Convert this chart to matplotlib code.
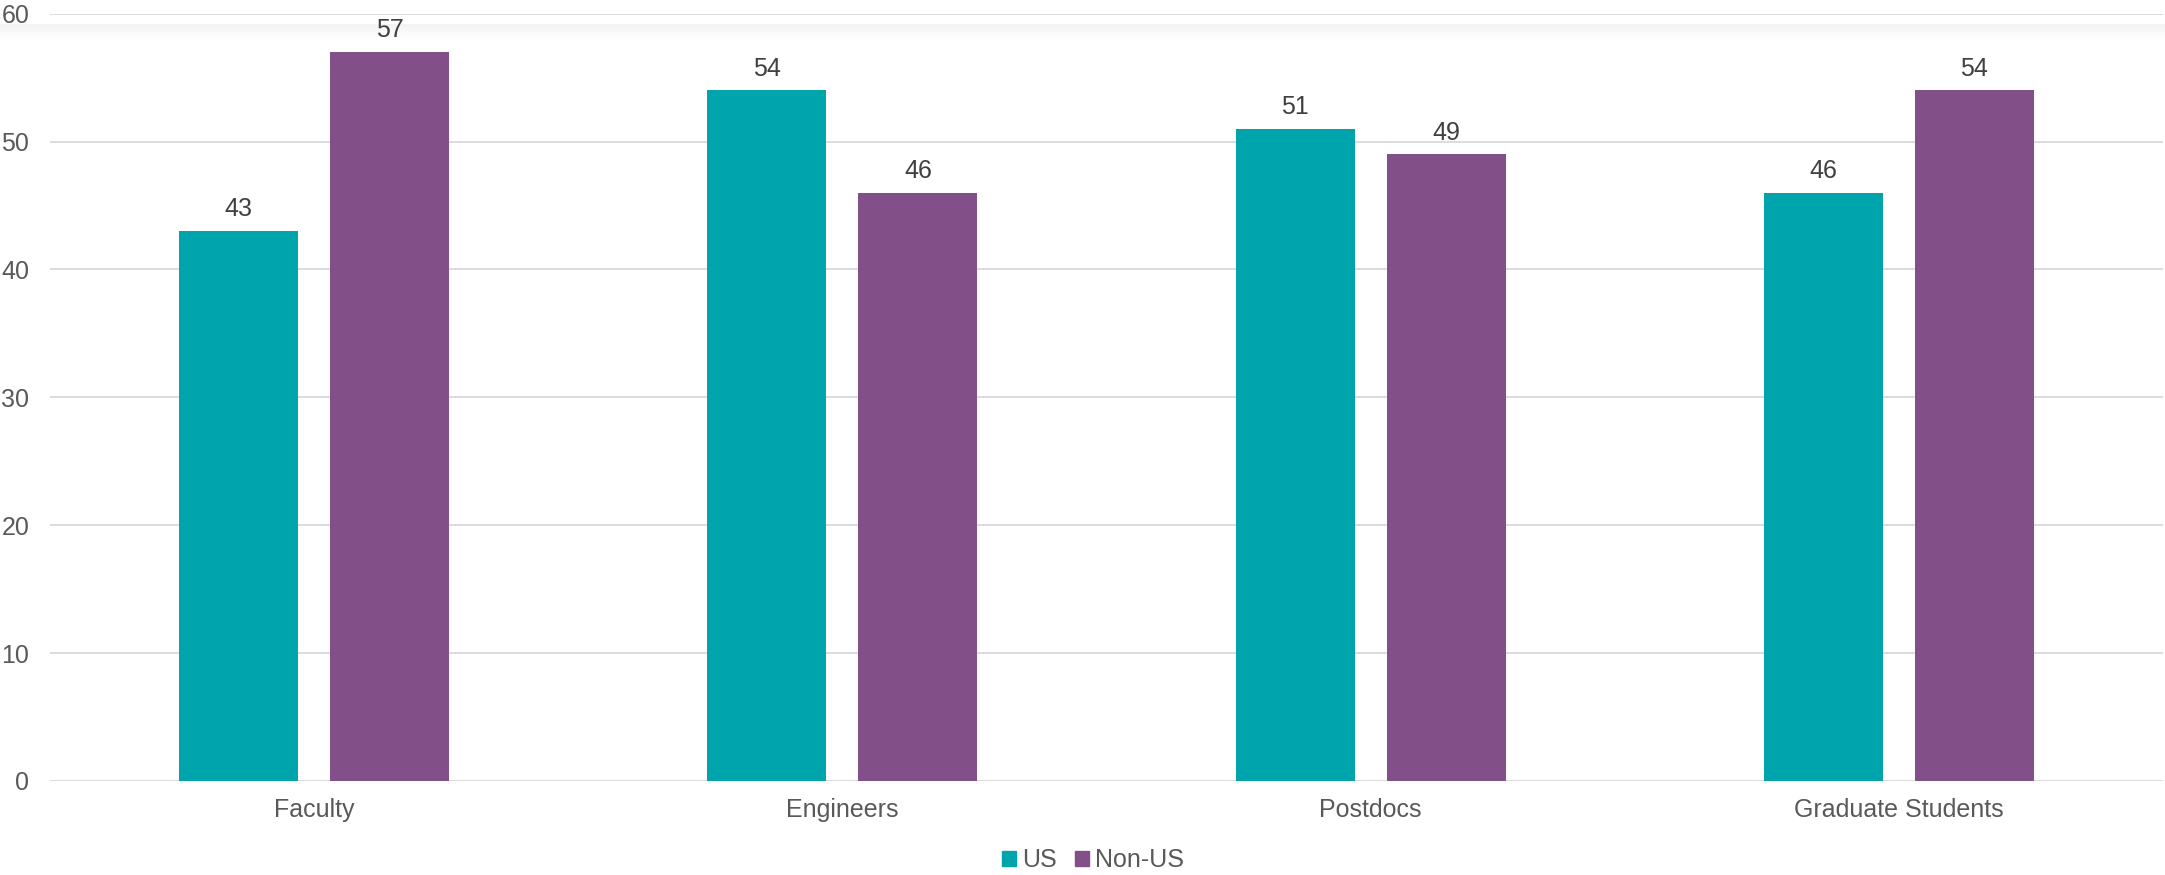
import numpy as np
import matplotlib.pyplot as plt
from matplotlib.patches import Patch

# datos del gráfico
categorias = ['Faculty', 'Engineers', 'Postdocs', 'Graduate Students']
us = [43, 54, 51, 46]
non_us = [57, 46, 49, 54]
series = ['US', 'Non-US']
yticks = [0, 10, 20, 30, 40, 50, 60]

COR_US = '#00A4AC'
COR_NON = '#824F88'
CINZA = '#595959'

plt.rcParams['font.family'] = ['Liberation Sans', 'DejaVu Sans']

fig = plt.figure(figsize=(21.65, 8.75), dpi=100)
ax = fig.add_axes([50 / 2165, 1 - 781 / 875, 2113 / 2165, (781 - 13.7) / 875])

x = np.arange(len(categorias))
larg = 0.225
desl = 0.143
b1 = ax.bar(x - desl, us, larg, color=COR_US, zorder=3)
b2 = ax.bar(x + desl, non_us, larg, color=COR_NON, zorder=3)

for barras in (b1, b2):
    for b in barras:
        ax.annotate(f'{b.get_height():.0f}', (b.get_x() + b.get_width() / 2, b.get_height()),
                    xytext=(0, 7), textcoords='offset points', ha='center', va='bottom',
                    fontsize=18, color='#404040')

ax.set_xlim(-0.5, len(categorias) - 0.5)
ax.set_ylim(0, 60)
ax.set_yticks(yticks)
ax.set_xticks(x)
ax.set_xticklabels(categorias)
ax.grid(axis='y', color='#D9D9D9', lw=1.3, zorder=0)
for s in ax.spines.values():
    s.set_visible(False)
ax.tick_params(axis='both', length=0, labelsize=18, labelcolor=CINZA)
ax.tick_params(axis='y', pad=15)
ax.tick_params(axis='x', pad=12)

# sombra suave abaixo da linha superior
sombra = fig.add_axes([0, 1 - 40 / 875, 1, 16 / 875], zorder=-1)
grad = np.linspace(0.95, 1.0, 50).reshape(-1, 1)
sombra.imshow(np.repeat(grad, 2, axis=1), cmap='gray', vmin=0, vmax=1,
              aspect='auto', extent=(0, 1, 0, 1))
sombra.axis('off')
ax.set_zorder(1)
ax.patch.set_alpha(0)

handles = [Patch(color=COR_US), Patch(color=COR_NON)]
fig.legend(handles, series, loc='center', bbox_to_anchor=(1093 / 2165, 1 - 860 / 875), ncol=2,
           frameon=False, fontsize=18, labelcolor=CINZA, handlelength=0.55,
           handleheight=0.55, handletextpad=0.25, columnspacing=0.75)

fig.savefig('out.png', dpi=100)
